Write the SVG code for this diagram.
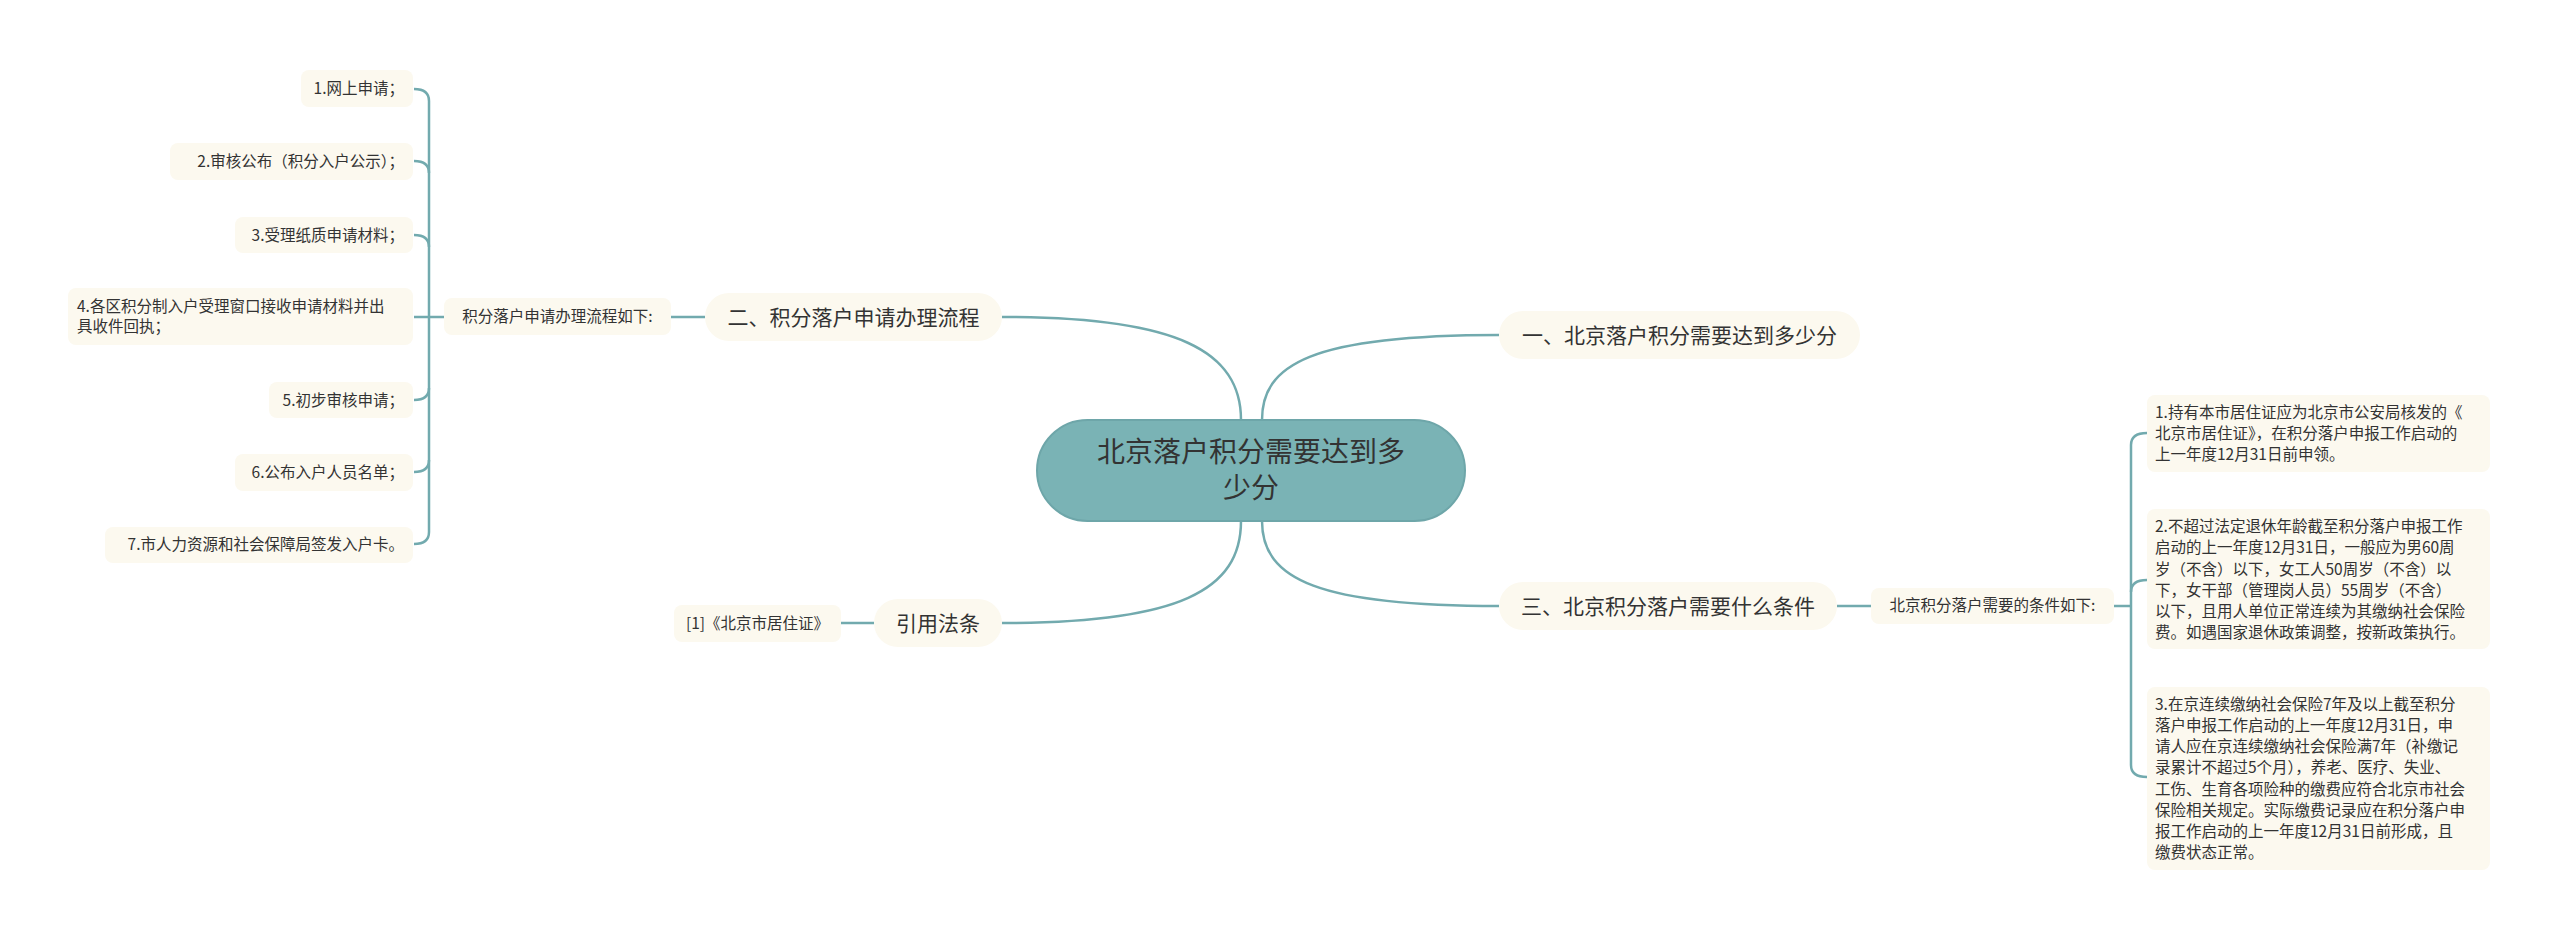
<svg xmlns="http://www.w3.org/2000/svg" width="2560" height="941" viewBox="0 0 2560 941">
<style>
text{font-family:"Noto Sans CJK SC","Noto Sans",sans-serif;fill:#333}
.box{fill:#fcf9ef}
.l1{font-size:21px}
.s{font-size:15.5px}
.c{fill:none;stroke:#72aaae;stroke-width:2.5}
</style>
<rect width="2560" height="941" fill="#fff"/>
<g id="connectors">
<path class="c" d="M1241 420 C1241 352 1180 317 1002 317"/>
<path class="c" d="M1262 420 C1262 365 1310 335 1499 335"/>
<path class="c" d="M1241 521 C1241 590 1180 623 1002 623"/>
<path class="c" d="M1262 521 C1262 580 1320 606 1499 606"/>
<path class="c" d="M671 317 L705 317"/>
<path class="c" d="M841 623 L874 623"/>
<path class="c" d="M1837 606 L1871 606"/>
<path class="c" d="M2114 606 L2131 606"/>
<path class="c" d="M2147 433 Q2131 433 2131 445 L2131 765 Q2131 777 2147 777"/>
<path class="c" d="M2147 580 Q2131 580 2131 592"/>
<path class="c" d="M444 317 L414 317"/>
<path class="c" d="M414 89 Q429 89 429 101 L429 532 Q429 544 414 544"/>
<path class="c" d="M414 161 Q429 161 429 173"/>
<path class="c" d="M414 235 Q429 235 429 247"/>
<path class="c" d="M414 400 Q429 400 429 388"/>
<path class="c" d="M414 472 Q429 472 429 460"/>
</g>
<g id="root">
<rect x="1037" y="420" width="428" height="101" rx="50.5" fill="#7ab3b5" stroke="#6ea6a9" stroke-width="2"/>
<text x="1251" y="462" font-size="28" text-anchor="middle">北京落户积分需要达到多</text>
<text x="1251" y="498" font-size="28" text-anchor="middle">少分</text>
</g>
<g id="n2">
<rect class="box" x="705" y="293" width="297" height="48" rx="24"/>
<text class="l1" x="853.5" y="324.5" text-anchor="middle">二、积分落户申请办理流程</text>
</g>
<g id="n1">
<rect class="box" x="1499" y="311" width="361" height="48" rx="24"/>
<text class="l1" x="1679.5" y="342.5" text-anchor="middle">一、北京落户积分需要达到多少分</text>
</g>
<g id="n3">
<rect class="box" x="1499" y="582" width="338" height="48" rx="24"/>
<text class="l1" x="1668" y="613.5" text-anchor="middle">三、北京积分落户需要什么条件</text>
</g>
<g id="n4">
<rect class="box" x="874" y="599" width="128" height="48" rx="24"/>
<text class="l1" x="938" y="630.5" text-anchor="middle">引用法条</text>
</g>
<g id="n4a">
<rect class="box" x="674" y="605" width="167" height="37" rx="8"/>
<text class="s" x="757.5" y="628.5" text-anchor="middle">[1]《北京市居住证》</text>
</g>
<g id="n2a">
<rect class="box" x="444" y="298" width="227" height="37" rx="8"/>
<text class="s" x="557.5" y="321.5" text-anchor="middle">积分落户申请办理流程如下:</text>
</g>
<g id="n2a1"><rect class="box" x="301" y="70" width="112" height="37" rx="8"/><text class="s" x="404" y="94" text-anchor="end">1.网上申请；</text></g>
<g id="n2a2"><rect class="box" x="170" y="143" width="243" height="37" rx="8"/><text class="s" x="404" y="167" text-anchor="end">2.审核公布（积分入户公示）；</text></g>
<g id="n2a3"><rect class="box" x="235" y="217" width="178" height="36" rx="8"/><text class="s" x="404" y="240.5" text-anchor="end">3.受理纸质申请材料；</text></g>
<g id="n2a4"><rect class="box" x="68" y="288" width="345" height="57" rx="8"/>
<text class="s" x="77" y="312">4.各区积分制入户受理窗口接收申请材料并出</text>
<text class="s" x="77" y="332">具收件回执；</text></g>
<g id="n2a5"><rect class="box" x="269" y="382" width="144" height="36" rx="8"/><text class="s" x="404" y="405.5" text-anchor="end">5.初步审核申请；</text></g>
<g id="n2a6"><rect class="box" x="235" y="454" width="178" height="37" rx="8"/><text class="s" x="404" y="477.5" text-anchor="end">6.公布入户人员名单；</text></g>
<g id="n2a7"><rect class="box" x="105" y="527" width="308" height="36" rx="8"/><text class="s" x="404" y="550" text-anchor="end">7.市人力资源和社会保障局签发入户卡。</text></g>
<g id="n3a">
<rect class="box" x="1871" y="588" width="243" height="36" rx="8"/>
<text class="s" x="1992.5" y="611" text-anchor="middle">北京积分落户需要的条件如下:</text>
</g>
<g id="n3a1"><rect class="box" x="2147" y="395" width="343" height="77" rx="8"/>
<text class="s" x="2155" y="418">1.持有本市居住证应为北京市公安局核发的《</text>
<text class="s" x="2155" y="439">北京市居住证》，在积分落户申报工作启动的</text>
<text class="s" x="2155" y="460">上一年度12月31日前申领。</text></g>
<g id="n3a2"><rect class="box" x="2147" y="509" width="343" height="140" rx="8"/>
<text class="s" x="2155" y="532">2.不超过法定退休年龄截至积分落户申报工作</text>
<text class="s" x="2155" y="553">启动的上一年度12月31日，一般应为男60周</text>
<text class="s" x="2155" y="575">岁（不含）以下，女工人50周岁（不含）以</text>
<text class="s" x="2155" y="596">下，女干部（管理岗人员）55周岁（不含）</text>
<text class="s" x="2155" y="617">以下，且用人单位正常连续为其缴纳社会保险</text>
<text class="s" x="2155" y="638">费。如遇国家退休政策调整，按新政策执行。</text></g>
<g id="n3a3"><rect class="box" x="2147" y="687" width="343" height="183" rx="8"/>
<text class="s" x="2155" y="710">3.在京连续缴纳社会保险7年及以上截至积分</text>
<text class="s" x="2155" y="731">落户申报工作启动的上一年度12月31日，申</text>
<text class="s" x="2155" y="752">请人应在京连续缴纳社会保险满7年（补缴记</text>
<text class="s" x="2155" y="773">录累计不超过5个月），养老、医疗、失业、</text>
<text class="s" x="2155" y="795">工伤、生育各项险种的缴费应符合北京市社会</text>
<text class="s" x="2155" y="816">保险相关规定。实际缴费记录应在积分落户申</text>
<text class="s" x="2155" y="837">报工作启动的上一年度12月31日前形成，且</text>
<text class="s" x="2155" y="858">缴费状态正常。</text></g>
</svg>
